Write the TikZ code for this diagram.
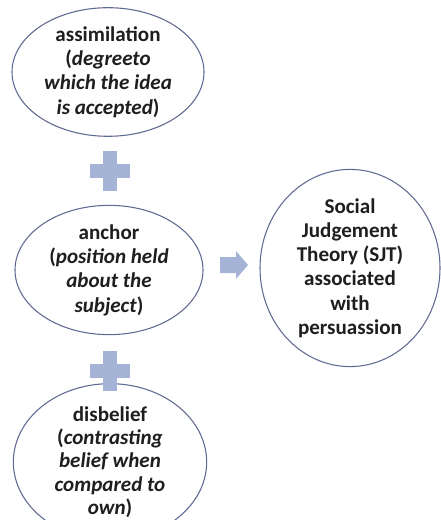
\documentclass[tikz,border=0pt]{standalone}
\usepackage{fontspec}
\setmainfont{Carlito}
\usetikzlibrary{shapes.geometric}
\definecolor{edgecol}{RGB}{95,105,145}
\definecolor{plusfill}{RGB}{165,180,214}
\definecolor{textcol}{RGB}{30,30,30}
\tikzset{
  oval/.style={ellipse, draw=edgecol, line width=0.8pt, inner sep=0pt, align=center,
    text=textcol, font=\fontsize{15.8pt}{18.2pt}\selectfont\bfseries},
  blockfill/.style={fill=plusfill, draw=none}
}
\begin{document}
\begin{tikzpicture}[x=0.75pt,y=-0.75pt]
\useasboundingbox (0,0) rectangle (441,520);
\node[oval, minimum width=144pt, minimum height=94pt] (assim) at (108,72)
  {assimilation\\(\textit{degreeto}\\\textit{which the idea}\\\textit{is accepted})};
\node[oval, minimum width=141pt, minimum height=97pt] (anchor) at (109,270)
  {anchor\\(\textit{position held}\\\textit{about the}\\\textit{subject})};
\node[oval, minimum width=145pt, minimum height=80pt,
  font=\fontsize{15.8pt}{17.4pt}\selectfont\bfseries] (disb) at (110,462)
  {disbelief\\(\textit{contrasting}\\\textit{belief when}\\\textit{compared to}\\\textit{own})};
\node[oval, minimum width=135pt, minimum height=142pt] (sjt) at (350,268)
  {Social\\Judgement\\Theory (SJT)\\associated\\with\\persuassion};
% plus signs
\coordinate (p1) at (110,171);
\coordinate (p2) at (110,371);
\foreach \p in {p1,p2}{
  \fill[blockfill] ([xshift=-15pt,yshift=-4.9pt]\p) rectangle ([xshift=15pt,yshift=4.9pt]\p);
  \fill[blockfill] ([xshift=-5.3pt,yshift=-15pt]\p) rectangle ([xshift=5.3pt,yshift=15pt]\p);
}
% arrow
\fill[blockfill] (220,257) -- (236,257) -- (236,251) -- (248,265) -- (236,279) -- (236,273) -- (220,273) -- cycle;
\end{tikzpicture}
\end{document}
